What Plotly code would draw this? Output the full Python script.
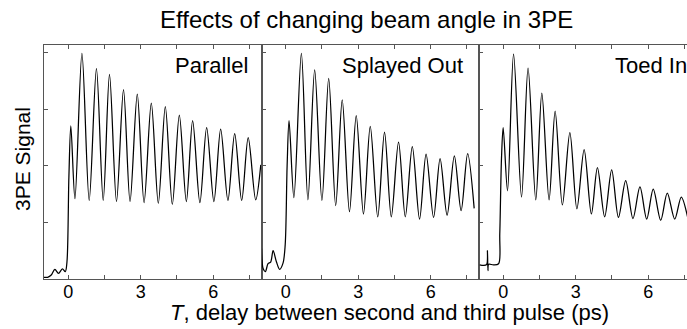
import plotly.graph_objects as go

# ---- data (extrema + key points) ----
panel_names = ["Parallel", "Splayed Out", "Toed In"]

x_parallel = [-1.0, -0.85, -0.7, -0.55, -0.4, -0.24, -0.12, -0.05, 0.03, 0.11, 0.28, 0.57, 0.87, 1.17,
              1.45, 1.71, 2.0, 2.29, 2.56, 2.86, 3.14, 3.44, 3.73, 4.02, 4.31, 4.6, 4.89, 5.15,
              5.45, 5.73, 6.03, 6.31, 6.61, 6.89, 7.18, 7.45, 7.76, 7.97]
y_parallel = [0.03, 0.03, 0.07, 0.17, 0.10, 0.18, 0.13, 0.3, 1.8, 2.71, 1.42, 3.99, 1.39, 3.72,
              1.39, 3.62, 1.37, 3.35, 1.37, 3.27, 1.35, 3.11, 1.34, 3.05, 1.32, 2.90, 1.37, 2.80,
              1.35, 2.68, 1.37, 2.65, 1.39, 2.57, 1.39, 2.50, 1.40, 2.02]

x_splayed = [-1.0, -0.93, -0.84, -0.73, -0.62, -0.52, -0.38, -0.25, -0.11, -0.02, 0.06, 0.14,
             0.34, 0.65, 0.92, 1.2, 1.5, 1.78, 2.07, 2.34, 2.64, 2.92, 3.22, 3.5, 3.81, 4.09,
             4.37, 4.67, 4.95, 5.24, 5.54, 5.81, 6.12, 6.39, 6.68, 6.98, 7.26, 7.53, 7.8]
y_splayed = [0.54, 0.18, 0.13, 0.27, 0.30, 0.50, 0.30, 0.17, 0.28, 0.6, 2.0, 2.80,
             1.44, 3.99, 1.40, 3.70, 1.39, 3.55, 1.30, 3.17, 1.19, 2.89, 1.15, 2.70, 1.10, 2.60,
             1.10, 2.42, 1.10, 2.34, 1.06, 2.21, 1.09, 2.13, 1.13, 2.18, 1.21, 2.22, 1.25]

x_toed = [-0.97, -0.8, -0.68, -0.65, -0.63, -0.6, -0.4, -0.19, -0.14, -0.07, 0.0, 0.18, 0.43,
          0.76, 1.03, 1.35, 1.6, 1.9, 2.15, 2.45, 2.76, 3.05, 3.35, 3.65, 3.9, 4.2, 4.49, 4.77,
          5.07, 5.37, 5.66, 5.94, 6.21, 6.52, 6.79, 7.1, 7.37, 7.63]
y_toed = [0.25, 0.24, 0.26, 0.50, 0.15, 0.26, 0.25, 0.27, 0.8, 2.13, 2.68, 1.56, 3.98,
          1.45, 3.73, 1.40, 3.29, 1.40, 2.97, 1.31, 2.59, 1.24, 2.29, 1.15, 1.97, 1.10, 1.93, 1.09,
          1.74, 1.07, 1.63, 1.06, 1.59, 1.04, 1.52, 1.06, 1.45, 1.10]

tick_vals = [0, 1.5, 3, 4.5, 6, 7.5]
tick_text = ["0", "", "3", "", "6", ""]
y_tick_vals = [0, 1, 2, 3, 4]

series = [(x_parallel, y_parallel), (x_splayed, y_splayed), (x_toed, y_toed)]

# ---- layout geometry (pixels) ----
W, H = 687, 329
L, T, B = 44, 45, 50
plot_w = W - L
panel_px = 217.5
d1 = panel_px / plot_w
d2 = 2 * panel_px / plot_w
domains = [[0, d1], [d1, d2], [d2, 1.0]]
px_per_ps = panel_px / 9.0
x_ranges = [[-1, 8], [-1, 8], [-1, -1 + (plot_w - 2 * panel_px) / px_per_ps]]

FONT = "Liberation Sans, Arial, sans-serif"
AXIS_COLOR = "#555555"

fig = go.Figure()
for i, (xs, ys) in enumerate(series):
    sfx = "" if i == 0 else str(i + 1)
    fig.add_trace(go.Scatter(x=xs, y=ys, mode="lines",
                             line=dict(color="black", width=1.25, shape="spline", smoothing=0.9),
                             xaxis="x" + sfx, yaxis="y" + sfx, showlegend=False,
                             hoverinfo="skip"))
    xa = dict(domain=domains[i], range=x_ranges[i], anchor="y" + sfx,
              tickvals=tick_vals, ticktext=tick_text, ticks="inside", ticklen=4,
              tickcolor=AXIS_COLOR, showline=True, linecolor=AXIS_COLOR, linewidth=1.3,
              mirror="ticks", showgrid=False, zeroline=False, ticklabelstandoff=-4,
              tickfont=dict(family=FONT, size=18, color="black"))
    ya = dict(range=[0, 4.14], anchor="x" + sfx, tickvals=y_tick_vals, showticklabels=False,
              ticks="inside", ticklen=4, tickcolor=AXIS_COLOR, showline=True,
              linecolor=AXIS_COLOR, linewidth=1.3, mirror=(i < 2), showgrid=False,
              zeroline=False)
    fig.update_layout(**{"xaxis" + sfx: xa, "yaxis" + sfx: ya})

plot_h = H - T - B
def py(pix):
    return (H - B - pix) / plot_h
def px(pix):
    return (pix - L) / plot_w

annotations = [
    dict(text="Effects of changing beam angle in 3PE", x=px(366), y=py(20), xref="paper", yref="paper",
         showarrow=False, font=dict(family=FONT, size=24, color="black"), xanchor="center", yanchor="middle"),
    dict(text="<i>T</i>, delay between second and third pulse (ps)", x=px(389), y=py(312),
         xref="paper", yref="paper", showarrow=False,
         font=dict(family=FONT, size=22, color="black"), xanchor="center", yanchor="middle"),
    dict(text="3PE Signal", x=px(22), y=py(159), xref="paper", yref="paper", textangle=-90,
         showarrow=False, font=dict(family=FONT, size=21, color="black"), xanchor="center", yanchor="middle"),
]
label_centers = [211, 402, 651]
for name, cx in zip(panel_names, label_centers):
    annotations.append(dict(text=name, x=px(cx), y=py(65), xref="paper", yref="paper", showarrow=False,
                            font=dict(family=FONT, size=22, color="black"),
                            xanchor="center", yanchor="middle"))

fig.update_layout(width=W, height=H, margin=dict(l=L, r=0, t=T, b=B),
                  paper_bgcolor="white", plot_bgcolor="white", annotations=annotations)

fig.write_html("out.html")
